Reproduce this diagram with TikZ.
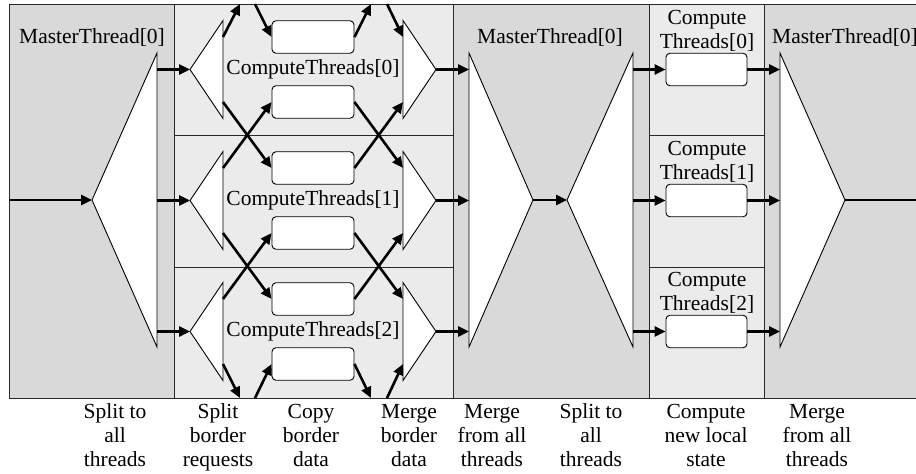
\documentclass[tikz,border=0pt]{standalone}
\usepackage{fontspec}
\setmainfont{Liberation Serif}
\usetikzlibrary{arrows.meta}
\definecolor{darkreg}{RGB}{217,217,217}
\definecolor{lightreg}{RGB}{235,235,235}
\definecolor{edgecol}{RGB}{40,40,40}
\tikzset{
  region/.style={draw=edgecol, line width=1pt},
  tri/.style={draw=black, fill=white, line width=0.9pt, line join=miter},
  cbox/.style={draw=black, fill=white, line width=0.9pt, rounded corners=4pt,
    minimum width=82pt, minimum height=32.5pt, inner sep=0pt},
  flow/.style={line width=2.6pt, -{Triangle[length=11pt,width=10pt]}},
  plainflow/.style={line width=2.6pt},
  lbl/.style={font=\fontsize{21.5}{24}\selectfont, inner sep=0pt},
}
\begin{document}
\begin{tikzpicture}[x=1pt,y=-1pt]
\useasboundingbox (0,0) rectangle (916,474);
% regions
\path[fill=darkreg] (9,4) rectangle (940,398);
\path[fill=lightreg] (174,4) rectangle (453,398);
\path[fill=lightreg] (649,4) rectangle (764,398);
\draw[region] (940,4) -- (9,4) -- (9,398) -- (940,398);
\foreach \xx in {174,453,649,764}{\draw[region] (\xx,4) -- (\xx,398);}
\foreach \yy in {135,267}{
  \draw[region] (174,\yy) -- (453,\yy);
  \draw[region] (649,\yy) -- (764,\yy);
}
% big triangles
\coordinate (in) at (9,200);
\coordinate (t1a) at (92,200);
\draw[tri] (157,53) -- (157,347) -- (t1a) -- cycle;
\coordinate (t2a) at (533,200);
\draw[tri] (469,53) -- (469,347) -- (t2a) -- cycle;
\coordinate (t3a) at (567,200);
\draw[tri] (633,53) -- (633,347) -- (t3a) -- cycle;
\coordinate (t4a) at (845,200);
\draw[tri] (780,53) -- (780,347) -- (t4a) -- cycle;
\coordinate (out) at (940,200);
\draw[flow] (in) -- (t1a);
\draw[flow] (t2a) -- (t3a);
\draw[plainflow] (t4a) -- (out);
% master labels
\node[lbl, anchor=base] (m1) at (92,43) {MasterThread[0]};
\node[lbl, anchor=base] (m2) at (550,43) {MasterThread[0]};
\node[lbl, anchor=base] (m3) at (845,43) {MasterThread[0]};
% per-thread parts
\foreach \k/\c in {0/69.5,1/200.5,2/331.5}{
  \coordinate (t1o\k) at (157,\c);
  \coordinate (sa\k) at (190,\c);
  \draw[tri] (223,\c-49) -- (223,\c+49) -- (sa\k) -- cycle;
  \coordinate (su\k) at (223,\c-32.5);
  \coordinate (sd\k) at (223,\c+32.5);
  \node[cbox] (bu\k) at (313,\c-32.5) {};
  \node[cbox] (bd\k) at (313,\c+32.5) {};
  \node[lbl, anchor=base] (ct\k) at (313,\c+4.5) {ComputeThreads[\k]};
  \coordinate (mu\k) at (403,\c-32.5);
  \coordinate (md\k) at (403,\c+32.5);
  \coordinate (ma\k) at (436,\c);
  \draw[tri] (403,\c-49) -- (403,\c+49) -- (ma\k) -- cycle;
  \coordinate (t2i\k) at (469,\c);
  \coordinate (t3o\k) at (633,\c);
  \node[cbox, minimum width=81pt] (nb\k) at (706.5,\c) {};
  \node[lbl, anchor=base] (nla\k) at (707,\c-45) {Compute};
  \node[lbl, anchor=base] (nlb\k) at (707,\c-21) {Threads[\k]};
  \coordinate (t4i\k) at (780,\c);
  \draw[flow] (t1o\k) -- (sa\k);
  \draw[flow] (ma\k) -- (t2i\k);
  \draw[flow] (t3o\k) -- (nb\k.west);
  \draw[flow] (nb\k.east) -- (t4i\k);
}
% border exchange: split side
\draw[flow] (sd0) -- (bu1.west);
\draw[flow] (su1) -- (bd0.west);
\draw[flow] (sd1) -- (bu2.west);
\draw[flow] (su2) -- (bd1.west);
\coordinate (wt1) at (240,4);
\coordinate (wt2) at (255,4);
\coordinate (wb1) at (240,398);
\coordinate (wb2) at (255,398);
\draw[flow] (su0) -- (wt1);
\draw[flow] (wt2) -- (bu0.west);
\draw[flow] (sd2) -- (wb1);
\draw[flow] (wb2) -- (bd2.west);
% border exchange: merge side
\draw[flow] (bd0.east) -- (mu1);
\draw[flow] (bu1.east) -- (md0);
\draw[flow] (bd1.east) -- (mu2);
\draw[flow] (bu2.east) -- (md1);
\coordinate (wt3) at (371,4);
\coordinate (wt4) at (387,4);
\coordinate (wb3) at (371,398);
\coordinate (wb4) at (387,398);
\draw[flow] (bu0.east) -- (wt3);
\draw[flow] (wt4) -- (mu0);
\draw[flow] (bd2.east) -- (wb3);
\draw[flow] (wb4) -- (md2);
% bottom labels
\foreach \n/\xx/\txt in {
  c1/115/{Split to\\all\\threads},
  c2/218/{Split\\border\\requests},
  c3/311/{Copy\\border\\data},
  c4/409/{Merge\\border\\data},
  c5/492/{Merge\\from all\\threads},
  c6/591/{Split to\\all\\threads},
  c7/706/{Compute\\new local\\state},
  c8/817/{Merge\\from all\\threads}}{
  \node[lbl, align=center, anchor=base] (\n) at (\xx,466) {\txt};
}
\end{tikzpicture}
\end{document}
